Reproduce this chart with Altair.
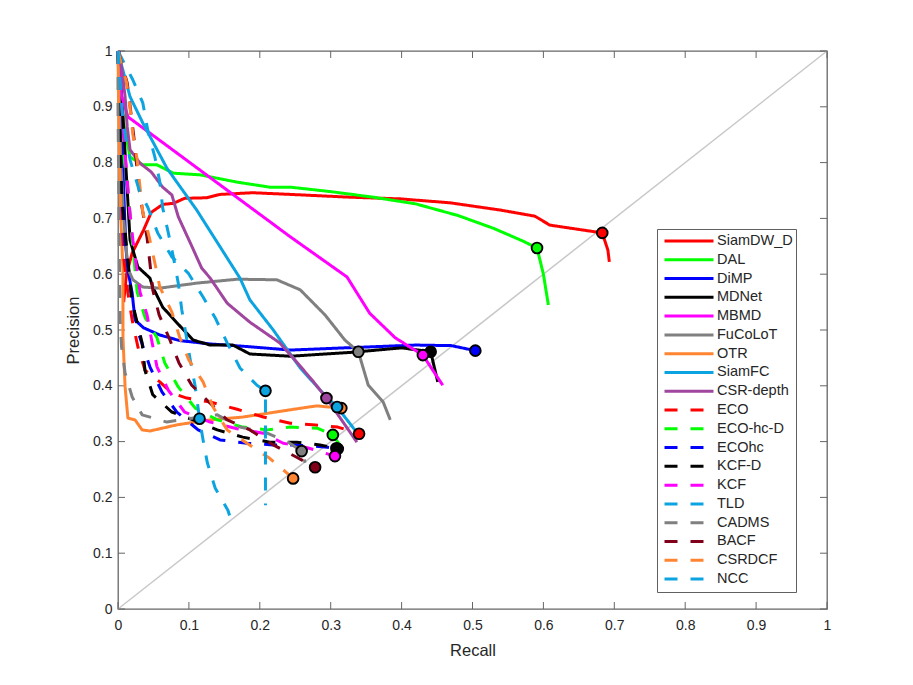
import altair as alt
import pandas as pd

# tracker names, colours and end markers
names = ['SiamDW_D', 'DAL', 'DiMP', 'MDNet', 'MBMD', 'FuCoLoT', 'OTR', 'SiamFC', 'CSR-depth',
         'ECO', 'ECO-hc-D', 'ECOhc', 'KCF-D', 'KCF', 'TLD', 'CADMS', 'BACF', 'CSRDCF', 'NCC']
colors = ['#ff0000', '#00ff00', '#0000ff', '#000000', '#ff00ff', '#808080', '#ff8533', '#0ca4e0', '#a0469e',
          '#ff0000', '#00ff00', '#0000ff', '#000000', '#ff00ff', '#0ca4e0', '#808080', '#7f0018', '#ff8533', '#0ca4e0']
dashes = [[1, 0]] * 9 + [[13, 13]] * 10

marker_r = [.683, .591, .504, .441, .430, .339, .315, .309, .294,
            .340, .303, .310, .308, .306, .115, .259, .278, .247, .208]
marker_p = [.674, .647, .463, .461, .455, .461, .360, .362, .378,
            .314, .312, .287, .288, .274, .341, .283, .254, .234, .391]

# curves
siamdw_r = [.008, .012, .02, .036, .047, .063, .078, .094, .125, .144, .19, .243, .327, .398, .468, .539, .588, .609, .683, .691, .693]
siamdw_p = [.55, .60, .638, .679, .711, .725, .727, .736, .737, .743, .746, .743, .738, .735, .728, .715, .704, .688, .674, .643, .622]
dal_r = [0, .004, .008, .017, .035, .055, .078, .116, .168, .214, .243, .30, .36, .42, .48, .53, .57, .591, .60, .607]
dal_p = [1, .93, .87, .81, .796, .796, .781, .778, .765, .756, .756, .748, .738, .726, .705, .682, .66, .647, .60, .545]
dimp_r = [.001, .004, .008, .011, .014, .02, .024, .036, .059, .087, .13, .186, .243, .30, .36, .42, .47, .504]
dimp_p = [1, .9, .75, .65, .607, .566, .518, .504, .491, .481, .475, .47, .464, .467, .47, .473, .472, .463]
mdnet_r = [.001, .007, .013, .017, .028, .045, .049, .063, .083, .106, .13, .162, .186, .243, .33, .40, .441, .451]
mdnet_p = [1, .882, .751, .661, .613, .593, .577, .541, .513, .482, .473, .473, .457, .453, .46, .468, .461, .407]
mbmd_r = [.001, .005, .014, .243, .323, .355, .391, .43, .458]
mbmd_p = [1, .92, .882, .667, .595, .53, .486, .455, .401]
fucolot_r = [0, .002, .004, .008, .014, .021, .035, .059, .111, .168, .224, .257, .292, .32, .339, .353, .374, .384]
fucolot_p = [1, .9, .8, .7, .61, .59, .577, .575, .584, .591, .59, .572, .527, .482, .461, .401, .371, .339]
otr_r = [0, .002, .004, .007, .007, .01, .014, .024, .034, .045, .083, .13, .176, .243, .28, .315]
otr_p = [1, .8, .7, .607, .487, .398, .342, .339, .321, .319, .33, .339, .344, .357, .364, .36]
siamfc_r = [0, .017, .035, .069, .111, .144, .172, .186, .219, .257, .289, .309, .334]
siamfc_p = [.998, .918, .871, .79, .715, .649, .593, .554, .5, .432, .387, .362, .321]
csr_r = [0, .005, .01, .013, .017, .031, .047, .063, .076, .085, .102, .118, .13, .154, .186, .228, .247, .274, .294, .337]
csr_p = [1, .971, .918, .864, .823, .799, .783, .756, .742, .703, .656, .611, .593, .548, .514, .477, .45, .41, .378, .299]
eco_r = [0, .005, .008, .014, .02, .028, .038, .059, .076, .097, .13, .168, .205, .243, .274, .31, .34]
eco_p = [1, .72, .63, .566, .518, .47, .428, .407, .387, .378, .371, .358, .344, .333, .33, .326, .314]
ecohcd_r = [0, .004, .014, .017, .02, .027, .038, .055, .066, .085, .109, .14, .176, .21, .243, .281, .303, .315]
ecohcd_p = [1, .85, .754, .71, .661, .568, .523, .486, .441, .398, .36, .339, .326, .321, .326, .324, .312, .29]
ecohc_r = [0, .005, .01, .02, .03, .045, .062, .083, .113, .144, .182, .219, .252, .295, .31]
ecohc_p = [1, .75, .65, .55, .49, .434, .389, .353, .321, .303, .297, .294, .294, .29, .287]
kcfd_r = [0, .005, .012, .02, .034, .038, .049, .076, .106, .14, .176, .214, .252, .285, .308]
kcfd_p = [1, .75, .65, .55, .477, .428, .384, .353, .339, .321, .308, .299, .299, .294, .288]
kcf_r = [0, .008, .016, .021, .031, .041, .048, .055, .071, .094, .13, .168, .205, .233, .267, .306]
kcf_p = [1, .85, .72, .661, .568, .527, .478, .434, .392, .353, .335, .323, .315, .297, .289, .274]
tld_r = [0, .021, .035, .042, .052, .059, .063, .071, .078, .085, .09, .096, .102, .109, .115, .12, .126, .137, .155, .158]
tld_p = [1, .948, .907, .858, .81, .765, .719, .674, .631, .584, .536, .491, .446, .398, .341, .303, .262, .217, .177, .165]
cadms_r = [0, 0, .001, .002, .003, .005, .01, .02, .034, .069, .104, .14, .172, .207, .24, .259, .264]
cadms_p = [1, .9, .75, .62, .518, .47, .423, .38, .348, .335, .342, .348, .326, .317, .299, .283, .262]
bacf_r = [0, .013, .022, .03, .041, .045, .049, .058, .072, .086, .104, .125, .154, .186, .219, .252, .278]
bacf_p = [1, .943, .85, .75, .665, .62, .572, .527, .486, .441, .401, .375, .339, .321, .294, .272, .254]
csrdcf_r = [0, .012, .017, .021, .027, .031, .035, .044, .052, .059, .076, .087, .10, .12, .134, .154, .182, .214, .238, .247]
csrdcf_p = [1, .944, .898, .85, .805, .756, .711, .667, .62, .577, .532, .487, .446, .407, .362, .321, .297, .27, .244, .234]
ncc_r = [0, .006, .01, .017, .03, .042, .056, .076, .099, .12, .137, .154, .172, .196, .208, .208]
ncc_p = [1, .89, .85, .805, .75, .72, .674, .631, .602, .559, .522, .477, .432, .401, .391, .186]

curves_r = [siamdw_r, dal_r, dimp_r, mdnet_r, mbmd_r, fucolot_r, otr_r, siamfc_r, csr_r,
            eco_r, ecohcd_r, ecohc_r, kcfd_r, kcf_r, tld_r, cadms_r, bacf_r, csrdcf_r, ncc_r]
curves_p = [siamdw_p, dal_p, dimp_p, mdnet_p, mbmd_p, fucolot_p, otr_p, siamfc_p, csr_p,
            eco_p, ecohcd_p, ecohc_p, kcfd_p, kcf_p, tld_p, cadms_p, bacf_p, csrdcf_p, ncc_p]

tick_values = [0, .1, .2, .3, .4, .5, .6, .7, .8, .9, 1]
tick_len_x = .0099
tick_len_y = .0125

rows = []
for name, rs, ps in zip(names, curves_r, curves_p):
    for i, (r, p) in enumerate(zip(rs, ps)):
        rows.append({'tracker': name, 'recall': r, 'precision': p, 'i': i})
df = pd.DataFrame(rows)
markers = pd.DataFrame({'tracker': names, 'recall': marker_r, 'precision': marker_p})
ticks = pd.DataFrame({'v': tick_values})

AXIS_COLOR = '#666666'
x_scale = alt.Scale(domain=[0, 1], nice=False)
y_scale = alt.Scale(domain=[0, 1], nice=False)
color_scale = alt.Scale(domain=names, range=colors)

x_enc = alt.X('recall:Q', scale=x_scale, title='Recall',
              axis=alt.Axis(values=tick_values, grid=False, ticks=False, domain=False, labelFlush=False,
                            labelOverlap=False, labelPadding=9, titlePadding=10, format='~g'))
y_enc = alt.Y('precision:Q', scale=y_scale, title='Precision',
              axis=alt.Axis(values=tick_values, grid=False, ticks=False, domain=False, labelFlush=False,
                            labelOverlap=False, labelPadding=6, titlePadding=11, format='~g'))

legend_opts = dict(
    title=None, orient='none', legendX=539, legendY=178,
    symbolType='stroke', symbolSize=2401, symbolStrokeWidth=3, symbolOpacity=1, symbolOffset=3,
    clipHeight=18, rowPadding=0.78, labelOffset=2, labelFontSize=14.5, labelColor='#262626',
    labelLimit=120, fillColor='white', strokeColor='#606060', padding=3,
    values=names)

diagonal = alt.Chart(pd.DataFrame({'recall': [0, 1], 'precision': [0, 1]})).mark_line(
    color='#c8c8c8', strokeWidth=1.5
).encode(x=x_enc, y=y_enc)

lines = alt.Chart(df).mark_line(strokeWidth=3, strokeCap='butt', strokeJoin='round').encode(
    x=x_enc,
    y=y_enc,
    color=alt.Color('tracker:N', scale=color_scale, sort=names, legend=alt.Legend(**legend_opts)),
    strokeDash=alt.StrokeDash('tracker:N', scale=alt.Scale(domain=names, range=dashes), sort=names,
                              legend=alt.Legend(**legend_opts)),
    order='i:Q',
)

points = alt.Chart(markers).mark_point(filled=True, size=115, opacity=1, stroke='black', strokeWidth=1.9).encode(
    x=alt.X('recall:Q', scale=x_scale),
    y=alt.Y('precision:Q', scale=y_scale),
    fill=alt.Fill('tracker:N', scale=color_scale, legend=None),
    order=alt.Order('order:Q'),
).transform_calculate(order=f"indexof({names!r}, datum.tracker)")

# MATLAB style inward ticks on all four sides
tick_style = dict(color=AXIS_COLOR, strokeWidth=1)
bottom = alt.Chart(ticks).transform_calculate(a='0', b=str(tick_len_y)).mark_rule(**tick_style).encode(
    x=alt.X('v:Q', scale=x_scale), y=alt.Y('a:Q', scale=y_scale), y2='b:Q')
top = alt.Chart(ticks).transform_calculate(a=str(1 - tick_len_y), b='1').mark_rule(**tick_style).encode(
    x=alt.X('v:Q', scale=x_scale), y=alt.Y('a:Q', scale=y_scale), y2='b:Q')
left = alt.Chart(ticks).transform_calculate(a='0', b=str(tick_len_x)).mark_rule(**tick_style).encode(
    y=alt.Y('v:Q', scale=y_scale), x=alt.X('a:Q', scale=x_scale), x2='b:Q')
right = alt.Chart(ticks).transform_calculate(a=str(1 - tick_len_x), b='1').mark_rule(**tick_style).encode(
    y=alt.Y('v:Q', scale=y_scale), x=alt.X('a:Q', scale=x_scale), x2='b:Q')

chart = (diagonal + bottom + top + left + right + lines + points).properties(
    width=709,
    height=558,
    autosize=alt.AutoSizeParams(type='none'),
    padding={'left': 110, 'top': 43, 'right': 70, 'bottom': 60},
).configure(
    font='Liberation Sans',
    axis=alt.AxisConfig(labelFontSize=14, titleFontSize=16.5, labelColor='#262626', titleColor='#262626',
                        titleFontWeight='normal'),
).configure_view(stroke=AXIS_COLOR, strokeWidth=1.3)

chart.save("out.html", embed_options={"renderer": "svg", "actions": False})
